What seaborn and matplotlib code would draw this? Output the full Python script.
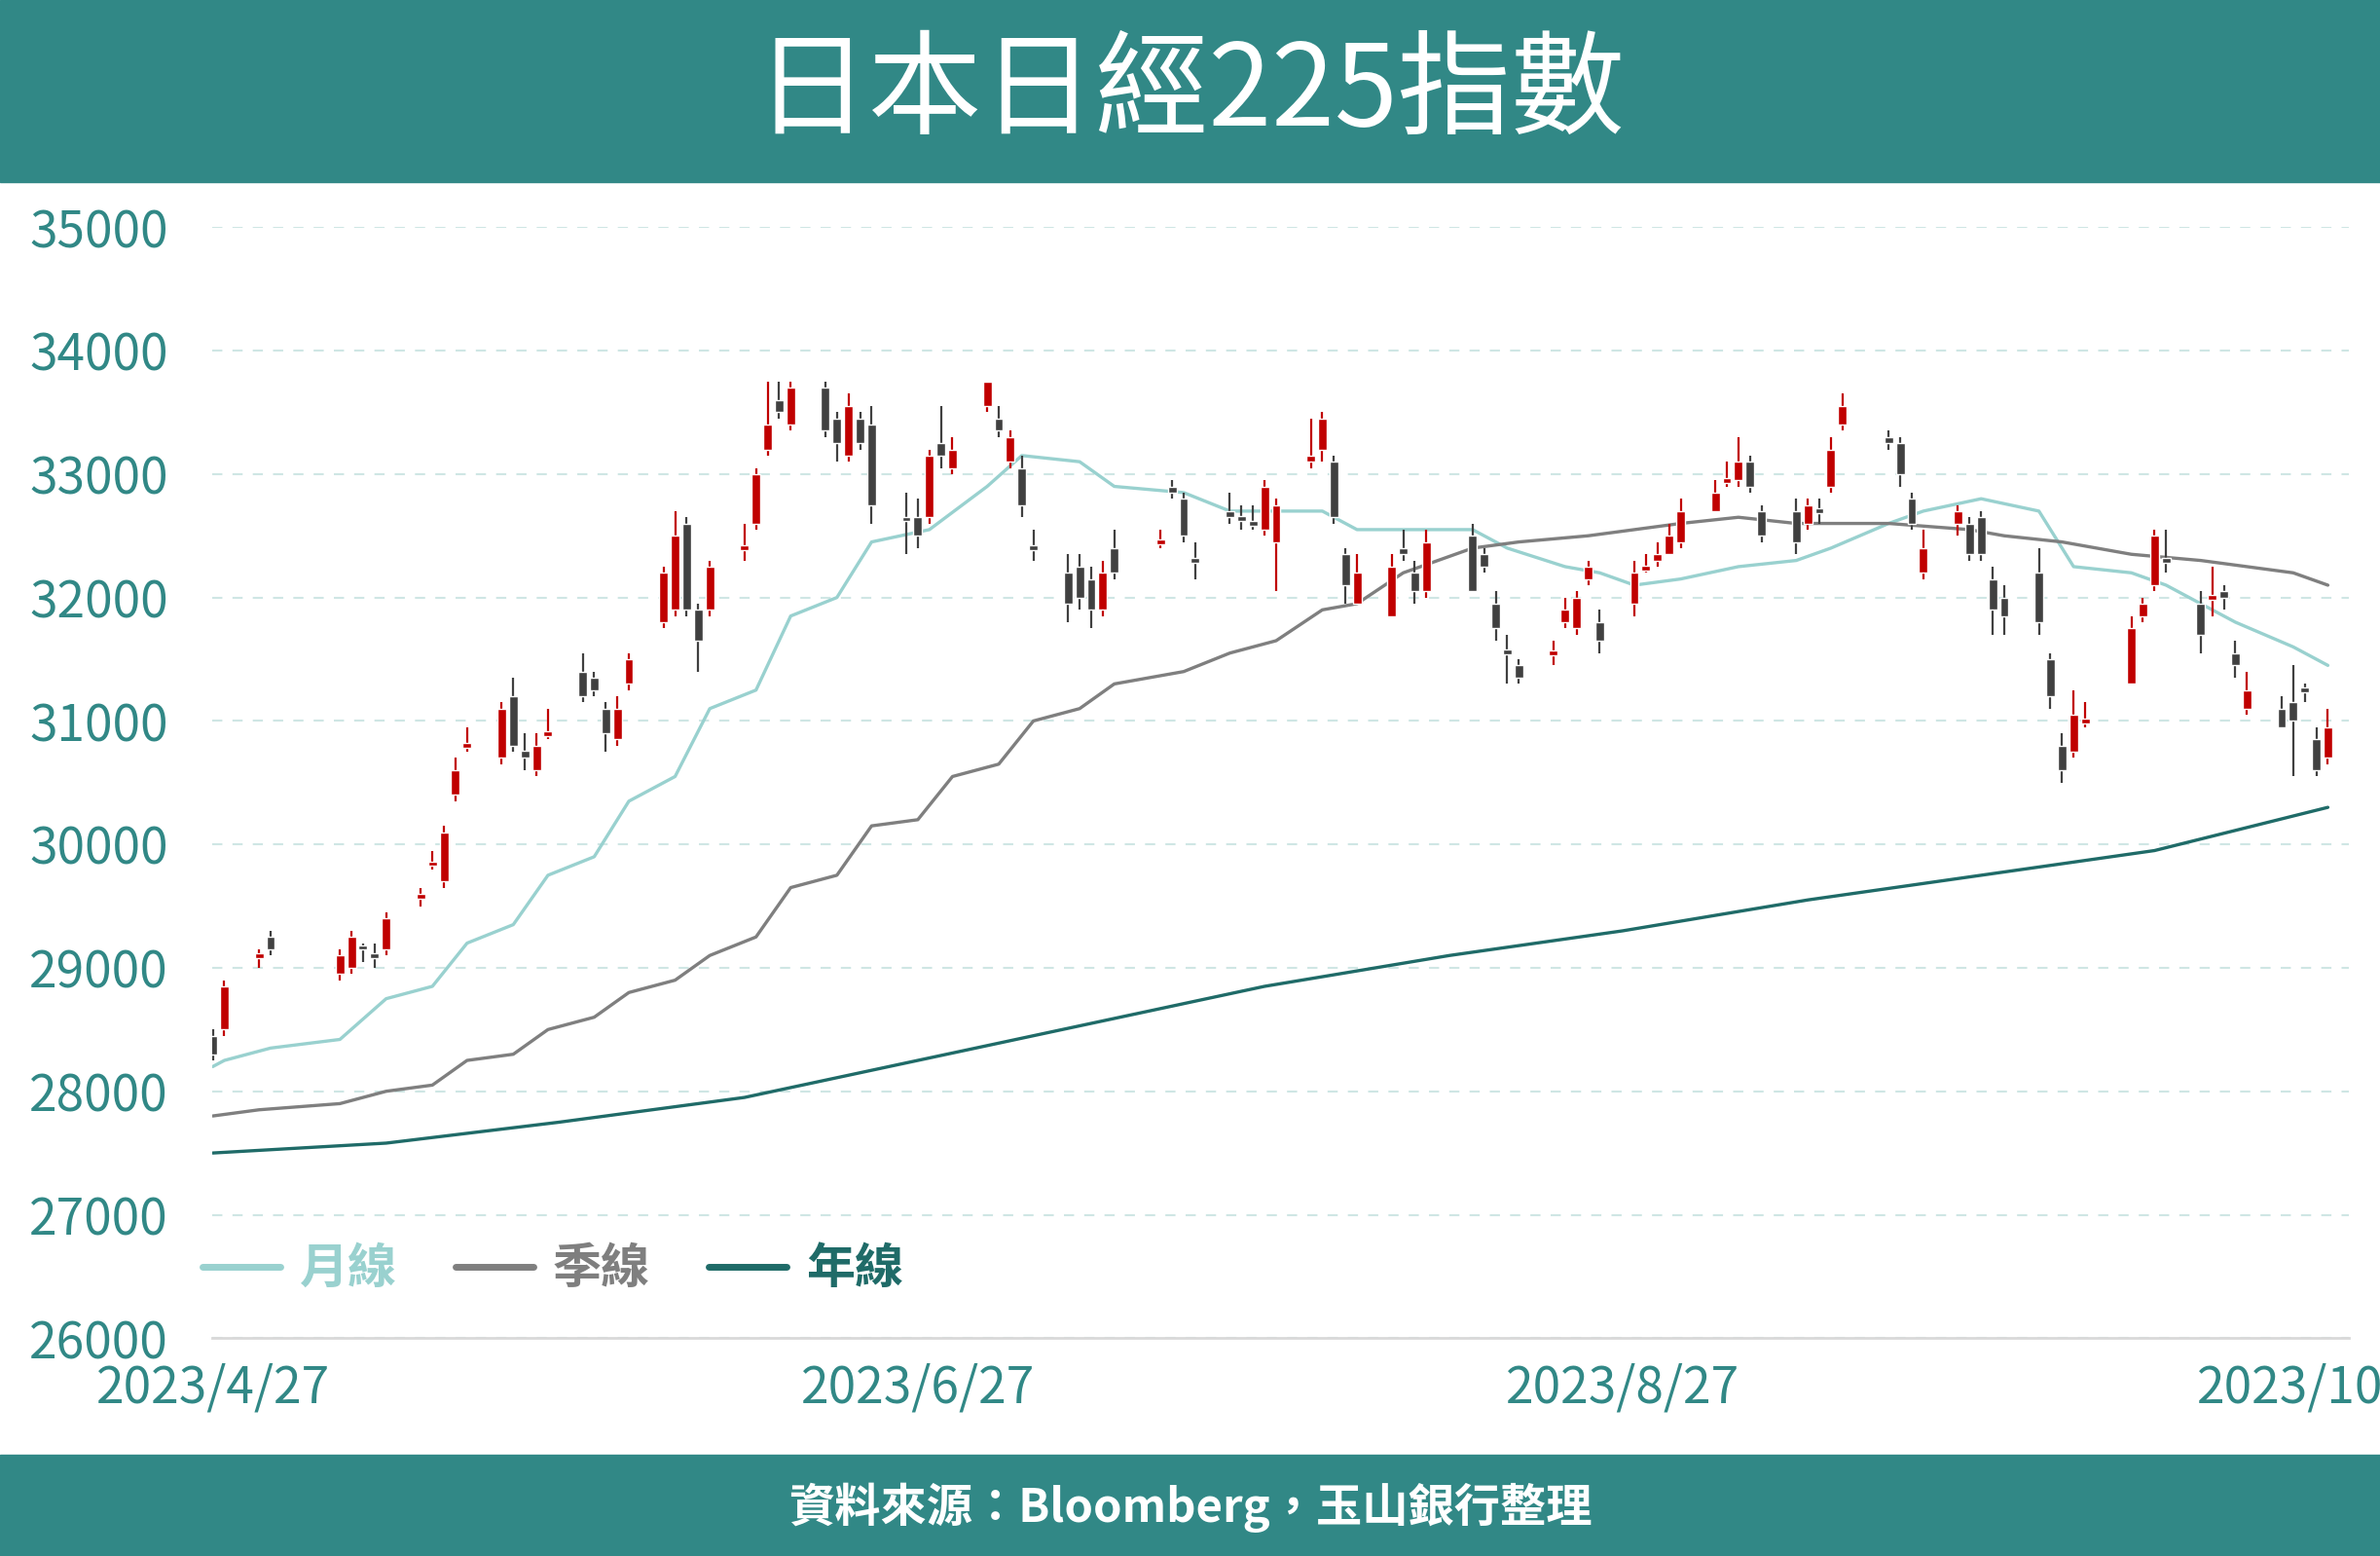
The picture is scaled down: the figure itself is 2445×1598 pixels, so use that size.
import pandas as pd
import numpy as np
import matplotlib
matplotlib.use('Agg')
import matplotlib.pyplot as plt
import matplotlib.dates as mdates
import seaborn as sns

# ---------------- data ----------------
dates = ['2023-04-27', '2023-04-28', '2023-05-01', '2023-05-02', '2023-05-08', '2023-05-09', '2023-05-10', '2023-05-11',
         '2023-05-12', '2023-05-15', '2023-05-16', '2023-05-17', '2023-05-18', '2023-05-19', '2023-05-22', '2023-05-23',
         '2023-05-24', '2023-05-25', '2023-05-26', '2023-05-29', '2023-05-30', '2023-05-31', '2023-06-01', '2023-06-02',
         '2023-06-05', '2023-06-06', '2023-06-07', '2023-06-08', '2023-06-09', '2023-06-12', '2023-06-13', '2023-06-14',
         '2023-06-15', '2023-06-16', '2023-06-19', '2023-06-20', '2023-06-21', '2023-06-22', '2023-06-23', '2023-06-26',
         '2023-06-27', '2023-06-28', '2023-06-29', '2023-06-30', '2023-07-03', '2023-07-04', '2023-07-05', '2023-07-06',
         '2023-07-07', '2023-07-10', '2023-07-11', '2023-07-12', '2023-07-13', '2023-07-14', '2023-07-18', '2023-07-19',
         '2023-07-20', '2023-07-21', '2023-07-24', '2023-07-25', '2023-07-26', '2023-07-27', '2023-07-28', '2023-07-31',
         '2023-08-01', '2023-08-02', '2023-08-03', '2023-08-04', '2023-08-07', '2023-08-08', '2023-08-09', '2023-08-10',
         '2023-08-14', '2023-08-15', '2023-08-16', '2023-08-17', '2023-08-18', '2023-08-21', '2023-08-22', '2023-08-23',
         '2023-08-24', '2023-08-25', '2023-08-28', '2023-08-29', '2023-08-30', '2023-08-31', '2023-09-01', '2023-09-04',
         '2023-09-05', '2023-09-06', '2023-09-07', '2023-09-08', '2023-09-11', '2023-09-12', '2023-09-13', '2023-09-14',
         '2023-09-15', '2023-09-19', '2023-09-20', '2023-09-21', '2023-09-22', '2023-09-25', '2023-09-26', '2023-09-27',
         '2023-09-28', '2023-09-29', '2023-10-02', '2023-10-03', '2023-10-04', '2023-10-05', '2023-10-06', '2023-10-10',
         '2023-10-11', '2023-10-12', '2023-10-13', '2023-10-16', '2023-10-17', '2023-10-18', '2023-10-19', '2023-10-20',
         '2023-10-23', '2023-10-24', '2023-10-25', '2023-10-26', '2023-10-27']
opens = [28450, 28500, 29080, 29250, 28950, 29000, 29180, 29120, 29150, 29560, 29830, 29700, 30400, 30780, 30700, 31200,
         30760, 30600, 30880, 31400, 31350, 31100, 30850, 31300, 31800, 31900, 32600, 31900, 31900, 32380, 32600, 33200,
         33600, 33400, 33700, 33450, 33150, 33450, 33400, 32650, 32650, 32650, 33250, 33050, 33550, 33450, 33100, 33050,
         32420, 32200, 32250, 32150, 31900, 32400, 32430, 32900, 32800, 32320, 32700, 32660, 32620, 32550, 32450, 33100,
         33200, 33100, 32350, 31950, 31850, 32400, 32200, 32050, 32500, 32350, 31950, 31580, 31450, 31530, 31800, 31750,
         32150, 31800, 31950, 32220, 32300, 32350, 32450, 32700, 32930, 32950, 33100, 32700, 32700, 32600, 32720, 32900,
         33400, 33300, 33250, 32800, 32200, 32600, 32600, 32650, 32150, 32000, 32200, 31500, 30800, 30750, 30980, 31300,
         31850, 32100, 32320, 31950, 31980, 32050, 31550, 31100, 31100, 31150, 31270, 30850, 30700]
closes = [28300, 28850, 29120, 29150, 29100, 29250, 29150, 29080, 29400, 29600, 29860, 30100, 30600, 30820, 31100, 30800,
          30700, 30800, 30920, 31200, 31250, 30900, 31100, 31500, 32200, 32500, 31900, 31650, 32250, 32420, 33000, 33400,
          33500, 33700, 33350, 33250, 33550, 33250, 32750, 32620, 32500, 33150, 33150, 33200, 33750, 33350, 33300, 32750,
          32380, 31950, 32000, 31900, 32200, 32200, 32470, 32850, 32500, 32280, 32650, 32620, 32580, 32900, 32750, 33150,
          33450, 32650, 32100, 32200, 32250, 32350, 32050, 32450, 32050, 32250, 31750, 31540, 31350, 31570, 31900, 32000,
          32250, 31650, 32200, 32260, 32350, 32500, 32700, 32850, 32970, 33100, 32900, 32500, 32450, 32750, 32680, 33200,
          33550, 33250, 33000, 32600, 32400, 32700, 32350, 32350, 31900, 31850, 31800, 31200, 30600, 31050, 31020, 31750,
          31950, 32500, 32280, 31700, 32020, 32000, 31450, 31250, 30950, 31000, 31230, 30600, 30950]
highs = [28500, 28900, 29150, 29300, 29150, 29300, 29200, 29200, 29450, 29650, 29950, 30150, 30700, 30950, 31150, 31350,
         30900, 30900, 31100, 31550, 31400, 31150, 31200, 31550, 32250, 32700, 32650, 31950, 32300, 32600, 33050, 33750,
         33750, 33750, 33750, 33500, 33650, 33500, 33550, 32850, 32800, 33200, 33550, 33300, 33750, 33550, 33350, 33150,
         32550, 32350, 32350, 32250, 32300, 32550, 32550, 32950, 32850, 32450, 32850, 32750, 32750, 32950, 32800, 33450,
         33500, 33150, 32400, 32350, 32350, 32550, 32300, 32550, 32600, 32400, 32050, 31700, 31500, 31650, 32000, 32050,
         32300, 31900, 32300, 32350, 32450, 32600, 32800, 32950, 33100, 33300, 33150, 32750, 32800, 32800, 32800, 33300,
         33650, 33350, 33300, 32850, 32550, 32750, 32650, 32700, 32250, 32100, 32400, 31550, 30900, 31250, 31150, 31850,
         32000, 32550, 32550, 32050, 32250, 32100, 31650, 31400, 31200, 31450, 31300, 30950, 31100]
lows = [28250, 28450, 29000, 29100, 28900, 28950, 29050, 29000, 29100, 29500, 29800, 29650, 30350, 30750, 30650, 30750,
        30600, 30550, 30850, 31150, 31200, 30750, 30800, 31250, 31750, 31850, 31850, 31400, 31850, 32300, 32550, 33150,
        33450, 33350, 33300, 33100, 33100, 33200, 32600, 32350, 32400, 32600, 33050, 33000, 33500, 33300, 33050, 32650,
        32300, 31800, 31900, 31750, 31850, 32150, 32400, 32800, 32450, 32150, 32600, 32550, 32550, 32500, 32050, 33050,
        33100, 32600, 31950, 31950, 31850, 32300, 31950, 32000, 32050, 32200, 31650, 31300, 31300, 31450, 31750, 31700,
        32100, 31550, 31850, 32200, 32250, 32350, 32400, 32700, 32900, 32900, 32850, 32450, 32350, 32550, 32600, 32850,
        33350, 33200, 32900, 32550, 32150, 32500, 32300, 32300, 31700, 31700, 31700, 31100, 30500, 30700, 30950, 31300,
        31800, 32050, 32200, 31550, 31850, 31900, 31350, 31050, 30950, 30550, 31150, 30550, 30650]

month_dates = ['2023-04-27', '2023-04-28', '2023-05-02', '2023-05-08', '2023-05-12', '2023-05-16', '2023-05-19',
               '2023-05-23', '2023-05-26', '2023-05-30', '2023-06-02', '2023-06-06', '2023-06-09', '2023-06-13',
               '2023-06-16', '2023-06-20', '2023-06-23', '2023-06-28', '2023-07-03', '2023-07-06', '2023-07-11',
               '2023-07-14', '2023-07-20', '2023-07-24', '2023-07-28', '2023-08-01', '2023-08-04', '2023-08-10',
               '2023-08-14', '2023-08-17', '2023-08-22', '2023-08-25', '2023-08-28', '2023-09-01', '2023-09-06',
               '2023-09-11', '2023-09-14', '2023-09-19', '2023-09-22', '2023-09-27', '2023-10-02', '2023-10-05',
               '2023-10-10', '2023-10-13', '2023-10-19', '2023-10-24', '2023-10-27']
month_ma = [28200, 28250, 28350, 28420, 28750, 28850, 29200, 29350, 29750, 29900, 30350, 30550, 31100, 31250, 31850,
            32000, 32450, 32550, 32900, 33150, 33100, 32900, 32850, 32700, 32700, 32700, 32550, 32550, 32550, 32400,
            32250, 32200, 32100, 32150, 32250, 32300, 32400, 32600, 32700, 32800, 32700, 32250, 32200, 32100, 31800,
            31600, 31450]

season_dates = ['2023-04-27', '2023-05-01', '2023-05-08', '2023-05-12', '2023-05-16', '2023-05-19', '2023-05-23',
                '2023-05-26', '2023-05-30', '2023-06-02', '2023-06-06', '2023-06-09', '2023-06-13', '2023-06-16',
                '2023-06-20', '2023-06-23', '2023-06-27', '2023-06-30', '2023-07-04', '2023-07-07', '2023-07-11',
                '2023-07-14', '2023-07-20', '2023-07-24', '2023-07-28', '2023-08-01', '2023-08-04', '2023-08-08',
                '2023-08-14', '2023-08-18', '2023-08-24', '2023-08-28', '2023-09-01', '2023-09-06', '2023-09-11',
                '2023-09-19', '2023-09-26', '2023-09-29', '2023-10-04', '2023-10-10', '2023-10-16', '2023-10-20',
                '2023-10-24', '2023-10-27']
season_ma = [27800, 27850, 27900, 28000, 28050, 28250, 28300, 28500, 28600, 28800, 28900, 29100, 29250, 29650, 29750,
             30150, 30200, 30550, 30650, 31000, 31100, 31300, 31400, 31550, 31650, 31900, 31950, 32200, 32400, 32450,
             32500, 32550, 32600, 32650, 32600, 32600, 32550, 32500, 32450, 32350, 32300, 32250, 32200, 32100]

year_dates = ['2023-04-27', '2023-05-12', '2023-05-27', '2023-06-12', '2023-06-27', '2023-07-12', '2023-07-27',
              '2023-08-12', '2023-08-27', '2023-09-12', '2023-09-27', '2023-10-12', '2023-10-27']
year_ma = [27500, 27580, 27750, 27950, 28250, 28550, 28850, 29100, 29300, 29550, 29750, 29950, 30300]

tick_labels = ['2023/4/27', '2023/6/27', '2023/8/27', '2023/10/27']

# ---------------- style ----------------
sns.set_style('white')
plt.rcParams['font.family'] = ['Noto Sans CJK TC', 'DejaVu Sans']
teal = '#318886'

fig = plt.figure(figsize=(24.45, 15.98), dpi=100)
fig.patches.append(plt.Rectangle((0, 0.883), 1, 0.117, transform=fig.transFigure, color=teal, zorder=0))
fig.patches.append(plt.Rectangle((0, 0), 1, 0.065, transform=fig.transFigure, color=teal, zorder=0))
fig.text(0.5, 0.94, '日本日經225指數', color='white', fontsize=84, ha='center', va='center', weight='medium')
fig.text(0.5, 0.031, '資料來源：Bloomberg，玉山銀行整理', color='white', fontsize=34, ha='center', va='center',
         weight='bold')

ax = fig.add_axes([0.089, 0.14, 0.898, 0.714])

candles = pd.DataFrame({'date': pd.to_datetime(dates), 'open': opens, 'close': closes, 'high': highs, 'low': lows})
candles['up'] = candles['close'] >= candles['open']
candles['color'] = np.where(candles['up'], '#c00000', '#404040')
x = mdates.date2num(candles['date'])
ax.vlines(x, candles['low'], candles['high'], colors=candles['color'], linewidth=1.6, zorder=3)
body = (candles['close'] - candles['open']).abs().clip(lower=25)
ax.bar(x, body, bottom=candles[['open', 'close']].min(axis=1), width=0.75, color=candles['color'], zorder=4)

ma = pd.concat([
    pd.DataFrame({'date': pd.to_datetime(month_dates), 'value': month_ma, 'line': '月線'}),
    pd.DataFrame({'date': pd.to_datetime(season_dates), 'value': season_ma, 'line': '季線'}),
    pd.DataFrame({'date': pd.to_datetime(year_dates), 'value': year_ma, 'line': '年線'}),
])
sns.lineplot(data=ma, x='date', y='value', hue='line', ax=ax, linewidth=2.4, zorder=2,
             palette={'月線': '#99d1cf', '季線': '#7f7f7f', '年線': '#1f6b68'})

ax.set_ylim(26000, 35000)
ax.set_yticks(range(26000, 35001, 1000))
ax.set_xlim(mdates.date2num(pd.Timestamp('2023-04-26 22:00')), mdates.date2num(pd.Timestamp('2023-10-28 20:00')))
ax.set_xticks(mdates.date2num(pd.to_datetime(['2023-04-27', '2023-06-27', '2023-08-27', '2023-10-27'])))
ax.set_xticklabels(tick_labels)
ax.grid(axis='y', color='#cfe6e4', linestyle=(0, (5, 5)), linewidth=1.5)
for s in ['top', 'right', 'left']:
    ax.spines[s].set_visible(False)
ax.spines['bottom'].set_color('#d9d9d9')
ax.spines['bottom'].set_linewidth(2)
ax.tick_params(axis='both', length=0, labelsize=37, labelcolor=teal)
ax.tick_params(axis='y', pad=55)
ax.tick_params(axis='x', pad=18)
ax.set_xlabel('')
ax.set_ylabel('')
for lbl in ax.get_yticklabels():
    lbl.set_horizontalalignment('left')
ax.yaxis.set_tick_params(pad=135)

leg = ax.legend(loc='lower left', bbox_to_anchor=(-0.025, 0.0), ncol=3, frameon=False, fontsize=36,
                handlelength=1.6, columnspacing=1.2, handletextpad=0.4)
for t, c in zip(leg.get_texts(), ['#99d1cf', '#7f7f7f', '#1f6b68']):
    t.set_color(c)
    t.set_weight('bold')
for h in leg.get_lines():
    h.set_linewidth(5)

fig.savefig('out.png', dpi=100, facecolor='white')
